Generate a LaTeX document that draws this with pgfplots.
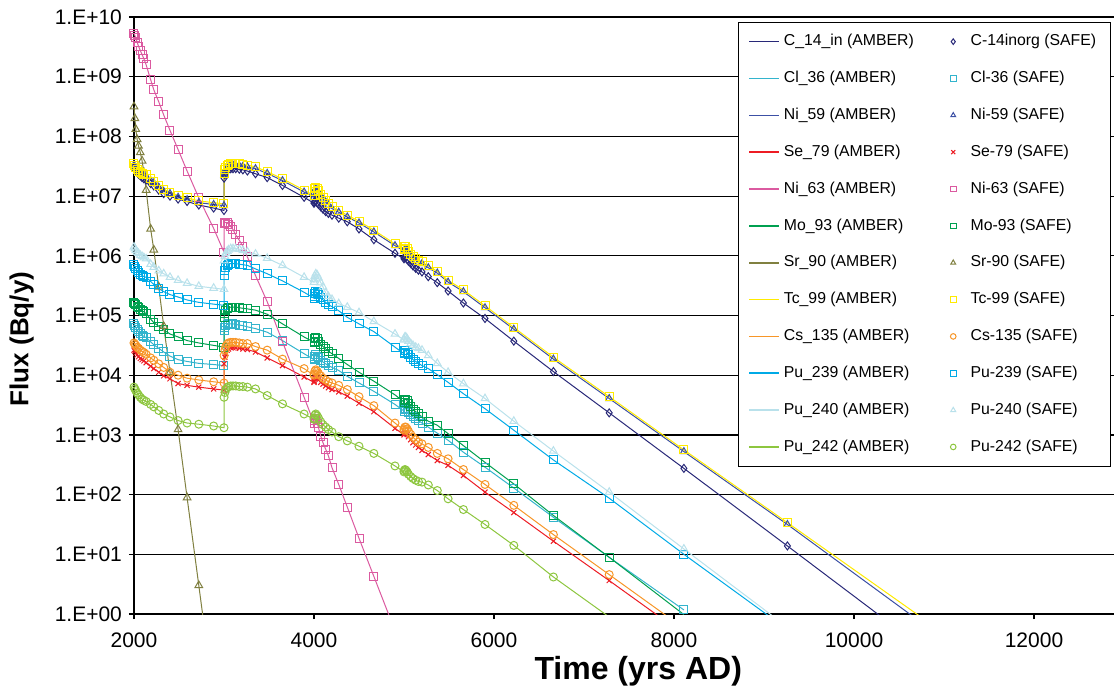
\documentclass[border=0pt]{standalone}
\usepackage{pgfplots}
\pgfplotsset{compat=1.18}
\usepackage{pgfplotstable}
\usepackage{fontspec}
\setmainfont{Liberation Sans}

\definecolor{cC}{RGB}{40,40,120}
\definecolor{cCl}{RGB}{51,180,205}
\definecolor{cNi}{RGB}{60,80,165}
\definecolor{cSe}{RGB}{237,28,36}
\definecolor{cNiS}{RGB}{219,90,160}
\definecolor{cMo}{RGB}{0,160,80}
\definecolor{cSr}{RGB}{128,128,64}
\definecolor{cTc}{RGB}{255,235,0}
\definecolor{cCs}{RGB}{247,150,40}
\definecolor{cPuA}{RGB}{0,170,230}
\definecolor{cPuB}{RGB}{185,225,235}
\definecolor{cPuC}{RGB}{141,198,63}

\pgfplotstableread{
t C14 Cl36 Ni59 Se79 Ni63 Mo93 Sr90 Tc99 Cs135 Pu239 Pu240 Pu242
2000 3.09e7 7.24e4 3.31e7 2.63e4 5.25e9 1.66e5 3.16e8 3.55e7 3.47e4 7.08e5 1.41e6 6.31e3
2010 2.88e7 6.76e4 3.02e7 2.51e4 4.90e9 1.58e5 2.00e8 3.24e7 3.31e4 6.61e5 1.32e6 5.89e3
2020 2.69e7 6.31e4 2.82e7 2.34e4 4.47e9 1.51e5 1.32e8 3.02e7 3.16e4 6.17e5 1.23e6 5.50e3
2035 2.51e7 5.75e4 2.63e7 2.19e4 3.80e9 1.41e5 8.91e7 2.82e7 2.95e4 5.62e5 1.15e6 5.01e3
2050 2.34e7 5.37e4 2.45e7 2.04e4 3.24e9 1.35e5 6.92e7 2.63e7 2.82e4 5.25e5 1.10e6 4.68e3
2070 2.19e7 5.01e4 2.34e7 1.91e4 2.75e9 1.26e5 5.37e7 2.51e7 2.63e4 4.90e5 1.02e6 4.27e3
2090 2.04e7 4.68e4 2.24e7 1.82e4 2.34e9 1.20e5 3.89e7 2.40e7 2.51e4 4.68e5 9.77e5 3.98e3
2110 1.95e7 4.47e4 2.19e7 1.74e4 2.00e9 1.15e5 2.51e7 2.34e7 2.40e4 4.47e5 9.33e5 3.80e3
2135 1.86e7 4.27e4 2.14e7 1.62e4 1.58e9 1.07e5 1.26e7 2.29e7 2.24e4 4.37e5 8.91e5 3.63e3
2185 1.62e7 3.63e4 1.82e7 1.41e4 8.91e8 8.71e4 2.82e6 1.95e7 1.95e4 3.72e5 7.24e5 3.24e3
2220 1.48e7 3.24e4 1.66e7 1.29e4 6.03e8 7.59e4 1.26e6 1.78e7 1.78e4 3.31e5 6.46e5 2.95e3
2275 1.26e7 2.82e4 1.41e7 1.12e4 3.80e8 6.61e4 3.02e5 1.51e7 1.55e4 2.82e5 5.62e5 2.57e3
2330 1.10e7 2.45e4 1.20e7 9.77e3 2.29e8 5.75e4 6.61e4 1.29e7 1.35e4 2.51e5 5.01e5 2.24e3
2400 1.00e7 2.09e4 1.10e7 8.71e3 1.26e8 4.90e4 1.12e4 1.17e7 1.12e4 2.24e5 4.37e5 2.00e3
2490 8.91e6 1.82e4 9.55e6 7.24e3 6.03e7 4.37e4 1.23e3 1.02e7 1.00e4 2.04e5 3.89e5 1.74e3
2590 8.13e6 1.70e4 8.71e6 6.76e3 2.63e7 3.80e4 8.91e1 9.33e6 8.91e3 1.82e5 3.47e5 1.58e3
2720 7.08e6 1.58e4 7.76e6 6.31e3 9.33e6 3.47e4 3.02 8.32e6 8.32e3 1.66e5 3.09e5 1.51e3
2885 6.31e6 1.51e4 7.24e6 5.89e3 2.88e6 3.16e4 3.98e-2 7.76e6 7.76e3 1.55e5 2.88e5 1.41e3
3000 5.75e6 1.45e4 6.92e6 5.62e3 1.15e6 2.95e4 2.00e-3 7.41e6 7.41e3 1.48e5 2.75e5 1.32e3
3001 2.00e7 5.62e4 2.24e7 1.55e4 3.47e6 9.33e4 nan 2.40e7 2.14e4 4.68e5 8.32e5 4.27e3
3010 2.29e7 6.31e4 2.57e7 2.00e4 3.63e6 1.10e5 nan 2.75e7 2.63e4 5.62e5 9.77e5 5.13e3
3020 2.51e7 6.76e4 2.82e7 2.34e4 3.63e6 1.20e5 nan 3.02e7 3.02e4 6.31e5 1.10e6 5.75e3
3035 2.69e7 7.08e4 3.02e7 2.63e4 3.55e6 1.29e5 nan 3.24e7 3.31e4 6.92e5 1.20e6 6.17e3
3050 2.82e7 7.24e4 3.16e7 2.75e4 3.39e6 1.35e5 nan 3.39e7 3.47e4 7.24e5 1.26e6 6.46e3
3075 2.88e7 7.24e4 3.31e7 2.88e4 3.09e6 1.38e5 nan 3.55e7 3.55e4 7.41e5 1.32e6 6.61e3
3100 2.88e7 7.24e4 3.31e7 2.88e4 2.75e6 1.38e5 nan 3.55e7 3.55e4 7.41e5 1.32e6 6.61e3
3130 2.88e7 7.08e4 3.31e7 2.88e4 2.24e6 1.38e5 nan 3.55e7 3.55e4 7.41e5 1.32e6 6.61e3
3170 2.82e7 6.92e4 3.24e7 2.82e4 1.82e6 1.35e5 nan 3.47e7 3.47e4 7.24e5 1.29e6 6.46e3
3210 2.75e7 6.76e4 3.16e7 2.75e4 1.45e6 1.32e5 nan 3.39e7 3.39e4 7.08e5 1.23e6 6.46e3
3260 2.63e7 6.46e4 3.09e7 2.69e4 9.55e5 1.29e5 nan 3.31e7 3.39e4 6.92e5 1.17e6 6.31e3
3350 2.37e7 6.03e4 2.88e7 2.45e4 4.68e5 1.23e5 nan 3.09e7 3.02e4 6.03e5 1.07e6 5.89e3
3480 2.04e7 5.25e4 2.40e7 1.95e4 1.70e5 1.05e5 nan 2.57e7 2.63e4 5.01e5 9.12e5 4.57e3
3650 1.51e7 3.80e4 1.82e7 1.45e4 3.63e4 7.24e4 nan 1.95e7 1.86e4 3.80e5 6.92e5 3.31e3
3890 9.55e6 2.29e4 1.17e7 9.33e3 4.27e3 4.37e4 nan 1.26e7 1.29e4 2.45e5 4.37e5 2.24e3
4000 7.59e6 1.82e4 9.55e6 7.59e3 1.58e3 3.55e4 nan 1.02e7 1.00e4 1.95e5 3.63e5 1.82e3
4001 7.94e6 1.91e4 1.12e7 7.94e3 1.74e3 3.72e4 nan 1.20e7 1.05e4 2.09e5 3.98e5 1.91e3
4010 8.13e6 2.09e4 1.26e7 8.91e3 1.91e3 4.07e4 nan 1.35e7 1.17e4 2.34e5 4.57e5 2.14e3
4020 8.13e6 2.19e4 1.32e7 9.33e3 1.86e3 4.27e4 nan 1.41e7 1.23e4 2.51e5 5.01e5 2.24e3
4035 7.76e6 2.09e4 1.26e7 8.91e3 1.58e3 4.07e4 nan 1.35e7 1.17e4 2.40e5 4.79e5 2.09e3
4050 7.24e6 1.95e4 1.15e7 8.32e3 1.32e3 3.72e4 nan 1.23e7 1.07e4 2.24e5 4.27e5 1.91e3
4075 6.61e6 1.78e4 1.00e7 7.59e3 9.55e2 3.31e4 nan 1.07e7 9.77e3 2.00e5 3.55e5 1.66e3
4100 6.03e6 1.66e4 8.91e6 7.08e3 7.41e2 3.02e4 nan 9.55e6 8.91e3 1.82e5 3.02e5 1.48e3
4130 5.50e6 1.55e4 7.94e6 6.61e3 5.75e2 2.75e4 nan 8.51e6 8.32e3 1.66e5 2.40e5 1.35e3
4160 5.13e6 1.45e4 7.08e6 6.17e3 4.47e2 2.51e4 nan 7.59e6 7.76e3 1.51e5 2.09e5 1.23e3
4200 4.79e6 1.35e4 6.17e6 5.75e3 2.82e2 2.29e4 nan 6.61e6 7.41e3 1.41e5 1.86e5 1.12e3
4275 4.27e6 1.20e4 5.37e6 5.25e3 1.48e2 1.91e4 nan 5.75e6 6.76e3 1.20e5 1.58e5 9.33e2
4370 3.72e6 9.55e3 4.47e6 4.47e3 6.17e1 1.51e4 nan 4.79e6 5.75e3 9.33e4 1.38e5 7.94e2
4500 2.82e6 7.41e3 3.55e6 3.39e3 1.86e1 1.12e4 nan 3.80e6 4.37e3 7.24e4 1.12e5 6.46e2
4665 1.86e6 5.37e3 2.51e6 2.45e3 4.27 7.94e3 nan 2.69e6 3.09e3 5.37e4 7.94e4 4.90e2
4900 1.10e6 3.24e3 1.48e6 1.29e3 5.25e-1 4.68e3 nan 1.58e6 1.58e3 2.95e4 4.90e4 3.02e2
5000 8.91e5 2.51e3 1.20e6 1.00e3 2.24e-1 3.55e3 nan 1.29e6 1.20e3 2.29e4 3.89e4 2.40e2
5001 9.33e5 2.63e3 1.26e6 1.05e3 nan 3.72e3 nan 1.35e6 1.26e3 2.40e4 4.07e4 2.51e2
5010 9.55e5 2.75e3 1.32e6 1.10e3 nan 3.98e3 nan 1.41e6 1.35e3 2.57e4 4.37e4 2.63e2
5020 9.33e5 2.75e3 1.32e6 1.10e3 nan 3.98e3 nan 1.41e6 1.35e3 2.57e4 4.37e4 2.57e2
5035 8.71e5 2.63e3 1.23e6 1.02e3 nan 3.72e3 nan 1.32e6 1.26e3 2.40e4 4.07e4 2.40e2
5050 8.13e5 2.40e3 1.12e6 9.33e2 nan 3.39e3 nan 1.20e6 1.15e3 2.19e4 3.72e4 2.19e2
5075 7.41e5 2.19e3 1.00e6 8.32e2 nan 3.02e3 nan 1.07e6 1.02e3 2.00e4 3.39e4 2.00e2
5100 6.76e5 2.00e3 9.12e5 7.41e2 nan 2.69e3 nan 9.77e5 9.12e2 1.82e4 3.16e4 1.86e2
5130 6.17e5 1.86e3 8.32e5 6.76e2 nan 2.45e3 nan 8.91e5 8.32e2 1.70e4 2.95e4 1.74e2
5160 5.75e5 1.74e3 7.76e5 6.17e2 nan 2.24e3 nan 8.32e5 7.59e2 1.58e4 2.82e4 1.66e2
5200 5.37e5 1.58e3 7.41e5 5.50e2 nan 2.00e3 nan 7.94e5 7.08e2 1.45e4 2.63e4 1.62e2
5270 4.47e5 1.35e3 6.31e5 4.68e2 nan 1.70e3 nan 6.76e5 6.17e2 1.29e4 2.14e4 1.45e2
5370 3.55e5 1.07e3 5.13e5 3.72e2 nan 1.45e3 nan 5.50e5 4.90e2 1.02e4 1.58e4 1.17e2
5490 2.57e5 8.13e2 3.63e5 3.09e2 nan 1.05e3 nan 3.89e5 3.98e2 7.59e3 1.12e4 8.51e1
5660 1.62e5 5.13e2 2.51e5 2.09e2 nan 6.61e2 nan 2.69e5 2.63e2 4.90e3 7.24e3 5.62e1
5900 8.91e4 2.88e2 1.35e5 1.10e2 nan 3.47e2 nan 1.45e5 1.48e2 2.75e3 4.07e3 3.16e1
6220 3.72e4 1.29e2 5.89e4 5.01e1 nan 1.51e2 nan 6.31e4 6.61e1 1.20e3 1.70e3 1.41e1
6660 1.15e4 4.17e1 1.86e4 1.66e1 nan 4.47e1 nan 2.00e4 2.14e1 3.80e2 5.37e2 4.17
7280 2.34e3 8.91 4.07e3 3.63 nan 8.91 nan 4.37e3 4.57 8.71e1 1.10e2 8.91e-1
8110 2.75e2 1.17 5.25e2 4.57e-1 nan 9.77e-1 nan 5.62e2 5.75e-1 1.00e1 1.23e1 nan
9260 1.38e1 nan 3.16e1 nan nan nan nan 3.39e1 nan 5.50e-1 6.03e-1 nan
10800 2.45e-1 nan 6.31e-1 nan nan nan nan 7.76e-1 nan nan nan nan
}\flux

\pgfplotsset{
  amber/.style={line width=0.5pt, mark=none, color=#1,
    legend image code/.code={\draw[draw=#1, line width=0.8pt] (0pt,0pt) -- (15pt,0pt);}},
  safe/.style n args={2}{only marks, color=#1, mark=#2, mark options={line width=0.5pt, solid, draw=#1},
    legend image code/.code={\draw[draw=#1, line width=0.5pt, mark=#2, mark size=1.4pt, only marks] plot coordinates {(3pt,0pt)}; \path (0pt,0pt) (9.5pt,0pt);}},
}

\begin{document}
\begin{tikzpicture}
\begin{axis}[
  scale only axis, width=490.5pt, height=298.5pt,
  ymode=log, xmin=2000, xmax=12900, ymin=1, ymax=1e10,
  scaled x ticks=false,
  xtick={2000,4000,6000,8000,10000,12000},
  xticklabels={2000,4000,6000,8000,10000,12000},
  ytick={1,10,100,1000,1e4,1e5,1e6,1e7,1e8,1e9,1e10},
  yticklabels={1.E+00,1.E+01,1.E+02,1.E+03,1.E+04,1.E+05,1.E+06,1.E+07,1.E+08,1.E+09,1.E+10},
  yminorticks=false, xminorticks=false,
  ymajorgrids, major grid style={black, line width=0.6pt},
  tick align=outside, major tick length=2.5pt,
  tick style={black, line width=0.6pt},
  xtick pos=bottom, ytick pos=left,
  axis line style={black, line width=0.6pt},
  tick label style={font=\fontsize{10.5}{12}\selectfont},
  xticklabel style={yshift=-3.5pt},
  xlabel={Time (yrs AD)}, ylabel={Flux (Bq/y)},
  every axis x label/.style={at={(axis description cs:0.514,0)}, yshift=-28.5pt, anchor=center,
    font=\bfseries\fontsize{16}{18}\selectfont},
  every axis y label/.style={at={(axis description cs:-0.1144,0.4606)}, rotate=90, anchor=center,
    font=\bfseries\fontsize{13}{15}\selectfont},
  legend columns=2,
  legend cell align=left,
  legend style={at={(1,1)}, anchor=north east, xshift=-2.2pt, yshift=-2.5pt,
    font=\fontsize{7.9}{9}\selectfont, draw=black, fill=white,
    row sep=7.2pt, inner xsep=5pt, inner ysep=4pt,
    /tikz/column 2/.style={column sep=14.5pt}},
]
\addplot[amber=cC] table[x=t,y=C14]{\flux};
\addlegendentry{C\_14\_in (AMBER)}
\addplot[safe={cC}{diamond}, mark size=2pt] table[x=t,y=C14]{\flux};
\addlegendentry{C-14inorg (SAFE)}
\addplot[amber=cCl] table[x=t,y=Cl36]{\flux};
\addlegendentry{Cl\_36 (AMBER)}
\addplot[safe={cCl}{square}, mark size=2pt] table[x=t,y=Cl36]{\flux};
\addlegendentry{Cl-36 (SAFE)}
\addplot[amber=cNi] table[x=t,y=Ni59]{\flux};
\addlegendentry{Ni\_59 (AMBER)}
\addplot[safe={cNi}{triangle}, mark size=2pt] table[x=t,y=Ni59]{\flux};
\addlegendentry{Ni-59 (SAFE)}
\addplot[amber=cSe] table[x=t,y=Se79]{\flux};
\addlegendentry{Se\_79 (AMBER)}
\addplot[safe={cSe}{x}, mark size=1.8pt] table[x=t,y=Se79]{\flux};
\addlegendentry{Se-79 (SAFE)}
\addplot[amber=cNiS] table[x=t,y=Ni63]{\flux};
\addlegendentry{Ni\_63 (AMBER)}
\addplot[safe={cNiS}{square}, mark size=2pt] table[x=t,y=Ni63]{\flux};
\addlegendentry{Ni-63 (SAFE)}
\addplot[amber=cMo] table[x=t,y=Mo93]{\flux};
\addlegendentry{Mo\_93 (AMBER)}
\addplot[safe={cMo}{square}, mark size=2pt] table[x=t,y=Mo93]{\flux};
\addlegendentry{Mo-93 (SAFE)}
\addplot[amber=cSr] table[x=t,y=Sr90]{\flux};
\addlegendentry{Sr\_90 (AMBER)}
\addplot[safe={cSr}{triangle}, mark size=2.2pt] table[x=t,y=Sr90]{\flux};
\addlegendentry{Sr-90 (SAFE)}
\addplot[amber=cTc] table[x=t,y=Tc99]{\flux};
\addlegendentry{Tc\_99 (AMBER)}
\addplot[safe={cTc}{square}, mark size=2pt] table[x=t,y=Tc99]{\flux};
\addlegendentry{Tc-99 (SAFE)}
\addplot[amber=cCs] table[x=t,y=Cs135]{\flux};
\addlegendentry{Cs\_135 (AMBER)}
\addplot[safe={cCs}{o}, mark size=2pt] table[x=t,y=Cs135]{\flux};
\addlegendentry{Cs-135 (SAFE)}
\addplot[amber=cPuA] table[x=t,y=Pu239]{\flux};
\addlegendentry{Pu\_239 (AMBER)}
\addplot[safe={cPuA}{square}, mark size=2pt] table[x=t,y=Pu239]{\flux};
\addlegendentry{Pu-239 (SAFE)}
\addplot[amber=cPuB] table[x=t,y=Pu240]{\flux};
\addlegendentry{Pu\_240 (AMBER)}
\addplot[safe={cPuB}{triangle}, mark size=2.2pt] table[x=t,y=Pu240]{\flux};
\addlegendentry{Pu-240 (SAFE)}
\addplot[amber=cPuC] table[x=t,y=Pu242]{\flux};
\addlegendentry{Pu\_242 (AMBER)}
\addplot[safe={cPuC}{o}, mark size=2pt] table[x=t,y=Pu242]{\flux};
\addlegendentry{Pu-242 (SAFE)}
\end{axis}
\pgfresetboundingbox
\path[use as bounding box] ([xshift=-67pt,yshift=-36pt]current axis.south west) rectangle ([xshift=-0.5pt,yshift=8.5pt]current axis.north east);
\end{tikzpicture}
\end{document}
